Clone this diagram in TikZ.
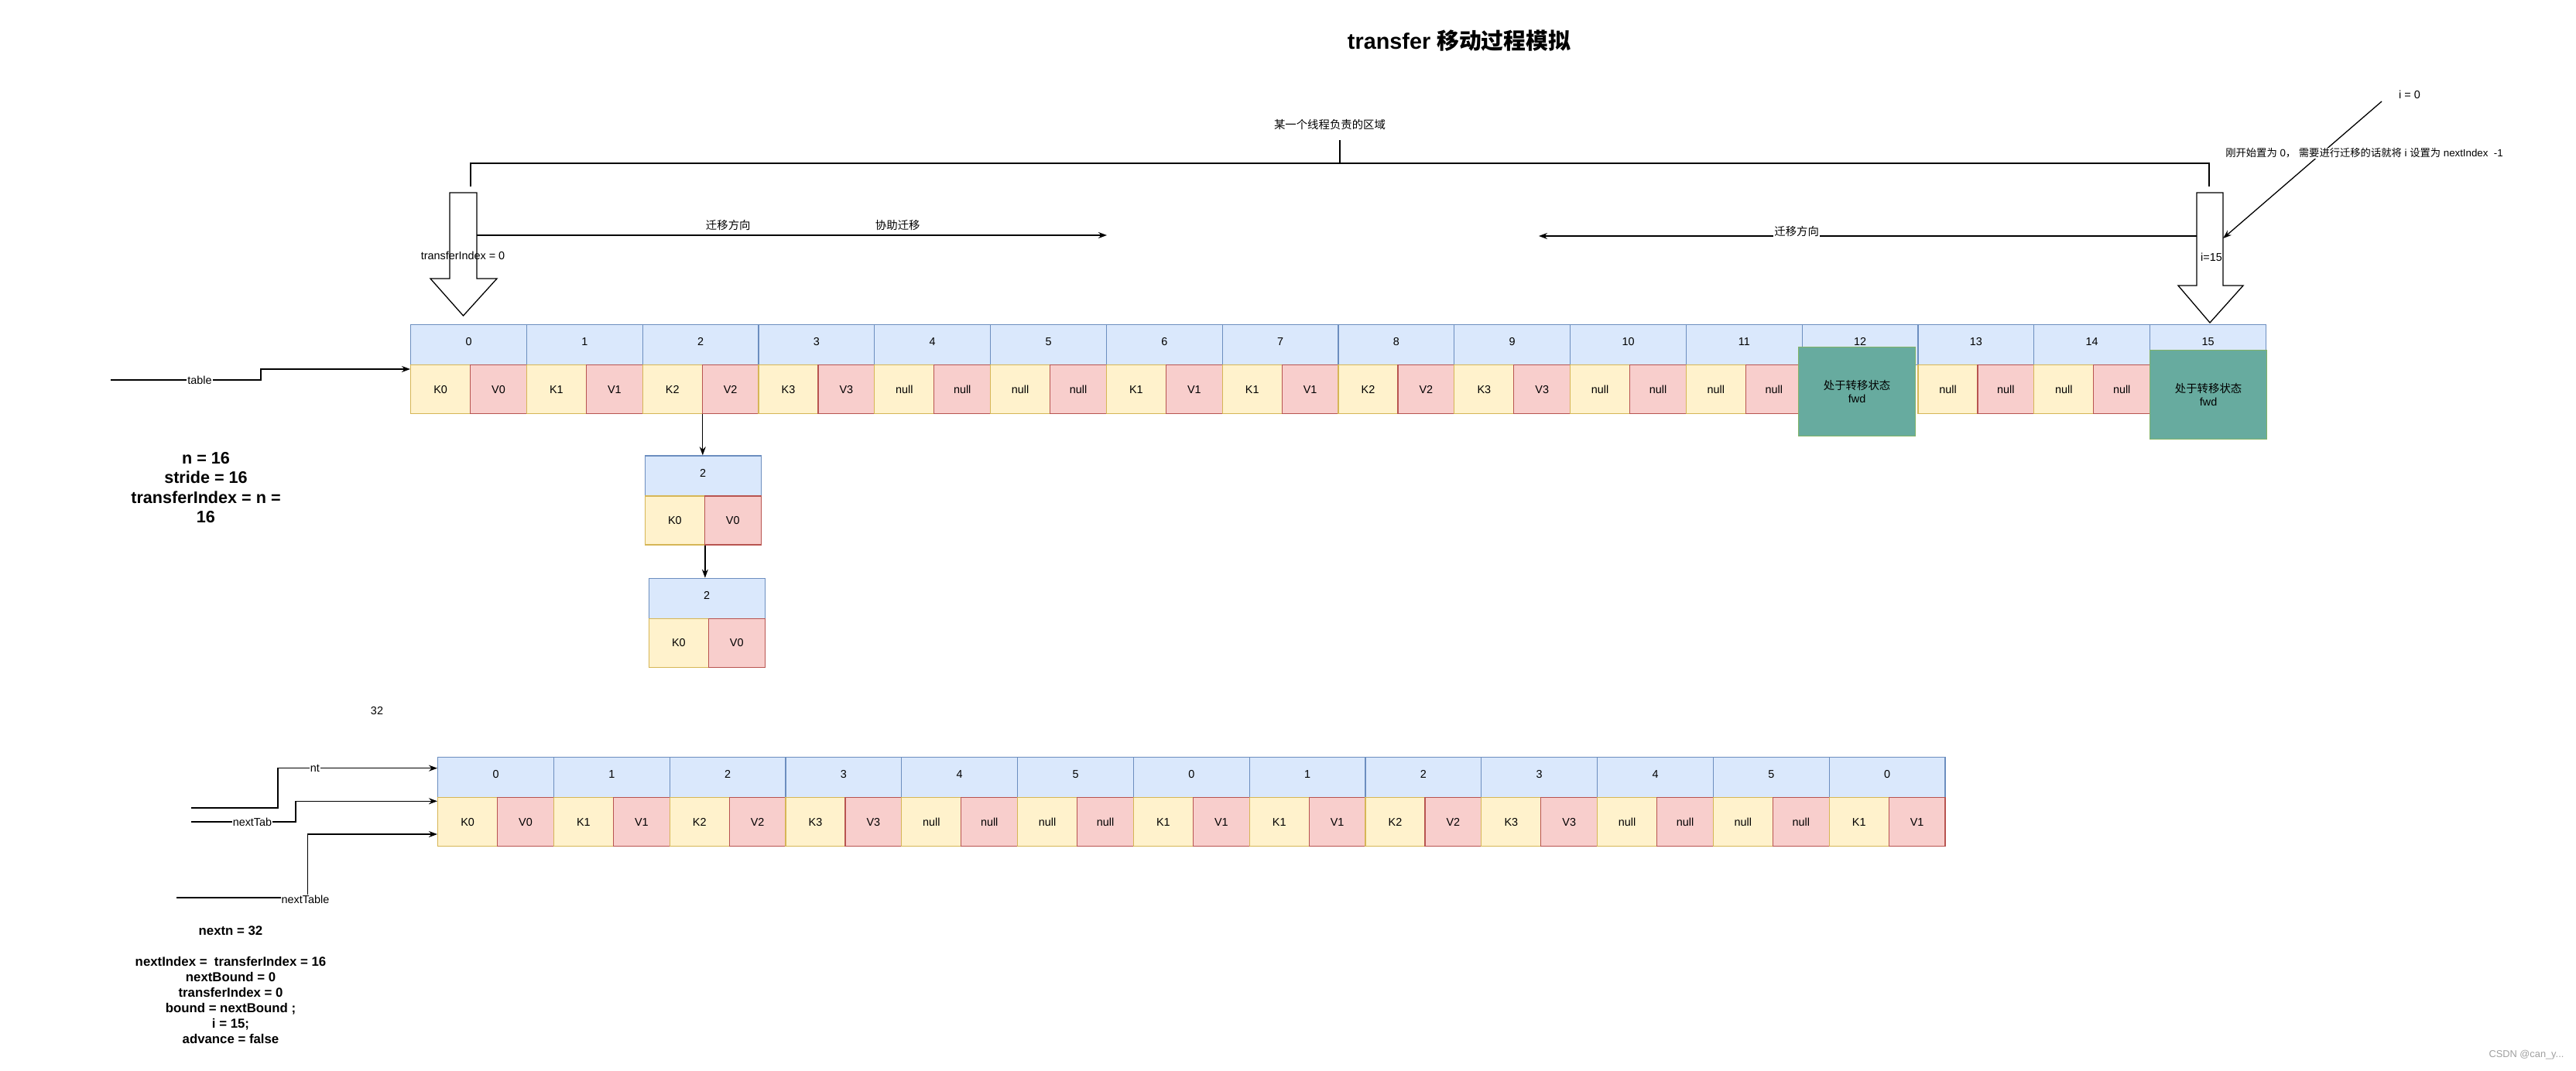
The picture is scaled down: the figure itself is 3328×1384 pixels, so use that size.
\documentclass[tikz,border=0pt]{standalone}
\usepackage{fontspec}
\setmainfont{Liberation Sans}
\newfontfamily\cjkf{Noto Sans CJK SC}
\usetikzlibrary{arrows.meta,calc}
\definecolor{hdrF}{HTML}{DAE8FC}
\definecolor{hdrS}{HTML}{6C8EBF}
\definecolor{kF}{HTML}{FFF2CC}
\definecolor{kS}{HTML}{D6B656}
\definecolor{vF}{HTML}{F8CECC}
\definecolor{vS}{HTML}{B85450}
\definecolor{gF}{HTML}{67AB9F}
\definecolor{gS}{HTML}{82B366}
\definecolor{wm}{HTML}{A0A0A0}
\newcommand\zh[1]{{\cjkf #1}}
\tikzset{
 base/.style={font=\fontsize{14.4}{17}\selectfont, inner sep=0pt},
 hdr/.style={base, draw=hdrS, fill=hdrF, line width=1.2pt, minimum width=149.8pt, minimum height=52pt, anchor=north west, text height=10.3pt, text depth=7.9pt},
 kc/.style={base, draw=kS, fill=kF, line width=1.2pt, minimum width=77pt, minimum height=63pt, anchor=north west},
 vc/.style={base, draw=vS, fill=vF, line width=1.2pt, minimum width=72.8pt, minimum height=63pt, anchor=north west},
 grn/.style={base, draw=gS, fill=gF, line width=1.2pt, minimum width=151pt, minimum height=115pt, anchor=north west, align=center},
 conn/.style={line width=1.3pt, -{Stealth[length=11pt,width=8pt]}},
 lbl/.style={base, fill=white, inner sep=1pt},
 txt/.style={base},
 blk/.style={draw, line width=1.3pt, fill=white, line join=miter},
 brk/.style={line width=2.4pt},
}
\begin{document}
\begin{tikzpicture}[x=1pt,y=-1pt]
\fill[white] (0,0) rectangle (3328,1384);
\useasboundingbox (0,0) rectangle (3328,1384);

% title
\node[inner sep=0pt, font=\fontsize{28.8}{34}\selectfont\bfseries] (title) at (1885,53) {transfer \zh{移动过程模拟}};

% bracket
\draw[brk] (608,241) -- (608,211) -- (2854,211) -- (2854,241);
\draw[brk] (1731,211) -- (1731,181);
\node[txt] (region) at (1718,161) {\zh{某一个线程负责的区域}};

% big block arrows
\draw[blk] (581,249) -- (616,249) -- (616,360) -- (642,360) -- (598.5,408) -- (556,360) -- (581,360) -- cycle;
\draw[blk] (2838,249) -- (2872,249) -- (2872,369) -- (2898,369) -- (2855,417) -- (2814,369) -- (2838,369) -- cycle;
\coordinate (LAr) at (616,304);
\coordinate (RAl) at (2838,305);
\coordinate (RAr) at (2872,308);
\node[txt] (tiz) at (598,330) {transferIndex = 0};
\node[txt] (i15) at (2857,332) {i=15};

% direction arrows
\coordinate (fwdE) at (1430,304);
\draw[conn] (LAr) -- node[txt,pos=0.399,yshift=13pt]{\zh{迁移方向}} node[txt,pos=0.668,yshift=13pt]{\zh{协助迁移}} (fwdE);
\coordinate (bwdE) at (1988,305);
\draw[conn] (RAl) -- node[lbl,pos=0.608,yshift=6pt]{\zh{迁移方向}} (bwdE);

% i = 0 annotation
\node[txt] (i0t) at (3113,122) {i = 0};
\coordinate (i0) at (3077,131);
\draw[conn] (i0) -- node[lbl,pos=0.378,xshift=55pt,font=\fontsize{13.3}{16}\selectfont]{\zh{刚开始置为} 0\zh{，} \zh{需要进行迁移的话就将} i \zh{设置为} nextIndex\ \ -1} (RAr);

% main table
\foreach \i in {0,...,15} \node[hdr] (h\i) at ({530+\i*149.8},419) {\i};
\foreach \i/\kk/\vv in {0/K0/V0,1/K1/V1,2/K2/V2,3/K3/V3,4/null/null,5/null/null,6/K1/V1,7/K1/V1,8/K2/V2,9/K3/V3,10/null/null,11/null/null,13/null/null,14/null/null}{
  \node[kc] (k\i) at ({530+\i*149.8},471) {\kk};
  \node[vc] (v\i) at ({530+\i*149.8+77},471) {\vv};
}
\node[grn] (g12) at (2323,448) {\zh{处于转移状态}\\fwd};
\node[grn] (g15) at (2777,452) {\zh{处于转移状态}\\fwd};

% table pointer
\coordinate (tS) at (143,491);
\draw[conn] (tS) -- node[lbl,pos=0.593]{table} ++(194,0) |- ($(k0.north west)+(0,6)$);

\node[inner sep=0pt, align=center, font=\fontsize{21.6}{25.5}\selectfont\bfseries] (nblock) at (266,630) {n = 16\\stride = 16\\transferIndex = n =\\16};

% linked list under bucket 2
\node[hdr] (s1h) at (832.7,588.3) {2};
\node[kc] (s1k) at (832.7,640.3) {K0};
\node[vc] (s1v) at (909.7,640.3) {V0};
\node[hdr] (s2h) at (837.7,746.7) {2};
\node[kc] (s2k) at (837.7,798.7) {K0};
\node[vc] (s2v) at (914.7,798.7) {V0};
\draw[conn] (k2.south east) -- (k2.south east |- s1h.north);
\draw[conn] (s1k.south east) -- (s1k.south east |- s2h.north);

\node[txt] (n32) at (487,919) {32};

% next table
\foreach \j/\lab/\kk/\vv in {0/0/K0/V0,1/1/K1/V1,2/2/K2/V2,3/3/K3/V3,4/4/null/null,5/5/null/null,6/0/K1/V1,7/1/K1/V1,8/2/K2/V2,9/3/K3/V3,10/4/null/null,11/5/null/null,12/0/K1/V1}{
  \node[hdr] (bh\j) at ({565+\j*149.8},978) {\lab};
  \node[kc] (bk\j) at ({565+\j*149.8},1030) {\kk};
  \node[vc] (bv\j) at ({565+\j*149.8+77},1030) {\vv};
}

\coordinate (ntS) at (247,1044);
\draw[conn] (ntS) -- ++(112,0) |- node[lbl,pos=0.616]{nt} ($(bh0.north west)+(0,14.7)$);
\coordinate (ntbS) at (247,1062);
\draw[conn] (ntbS) -- node[lbl,pos=0.585]{nextTab} ++(135,0) |- ($(bk0.north west)+(0,5.3)$);
\coordinate (ntlS) at (228,1160);
\draw[conn] (ntlS) -- ++(169.5,0) node[lbl,xshift=-3pt,yshift=-2.7pt]{nextTable} |- ($(bk0.north west)+(0,48)$);

\node[inner sep=0pt, align=center, font=\fontsize{16.8}{20}\selectfont\bfseries] (bblock) at (298,1272.7) {nextn = 32\\[20pt]nextIndex = \ transferIndex = 16\\nextBound = 0\\transferIndex = 0\\bound = nextBound ;\\i = 15;\\advance = false};

\node[inner sep=0pt, text=wm, font=\fontsize{12.8}{15}\selectfont] (wmk) at (3264,1363) {CSDN @can\_y...};
\end{tikzpicture}
\end{document}
